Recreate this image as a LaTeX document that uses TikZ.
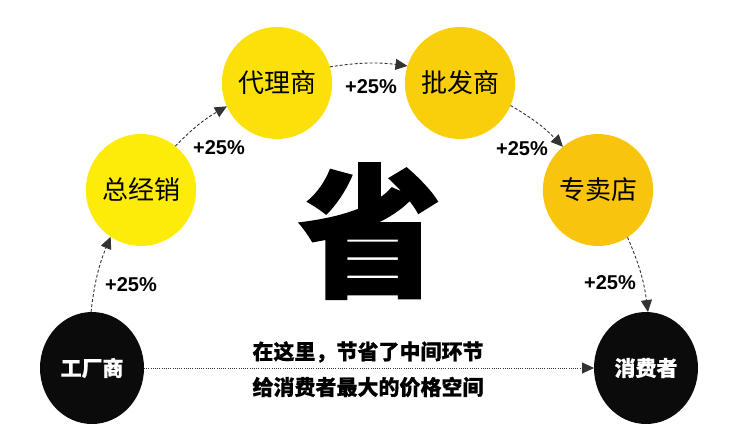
\documentclass[tikz,border=0pt]{standalone}
\usepackage{fontspec}
\setmainfont{Liberation Sans}
\newfontfamily\cjk{Noto Sans CJK SC}
\newfontfamily\cjkbold[FakeBold=0.6]{Noto Sans CJK SC}
\newfontfamily\cjkheavy[FakeBold=1.5]{Noto Sans CJK SC}
\usepackage{xcolor}
\usepackage{tikz}
\usetikzlibrary{shapes.geometric,arrows.meta}

\definecolor{lemon}{HTML}{FDEB0A}
\definecolor{sun}{HTML}{FBE00A}
\definecolor{gold}{HTML}{F9CF0B}
\definecolor{amber}{HTML}{F9C40E}
\definecolor{ink}{HTML}{0B0B0B}

\begin{document}
\begin{tikzpicture}[x=1pt,y=-1pt,
    every node/.style={inner sep=0pt,outer sep=0pt},
    stage/.style={ellipse,minimum width=104pt,minimum height=112pt,font=\cjk\fontsize{26}{26}\selectfont},
    endpt/.style={stage,fill=ink,text=white,font=\cjkbold\bfseries\fontsize{21}{21}\selectfont},
    flow/.style={densely dashed,line width=0.9pt,black!80,-{Triangle[length=12pt,width=11pt]}},
    saving/.style={dash pattern=on 1pt off 1.2pt,line width=0.9pt,black!80,-{Triangle[length=12pt,width=11pt]}},
    pct/.style={font=\bfseries\fontsize{20}{20}\selectfont},
    msg/.style={font=\cjkbold\bfseries\fontsize{21}{21}\selectfont},
]
\useasboundingbox (0,0) rectangle (750,440);
\node[endpt] (gc) at (92,368) {工厂商};
\node[stage,fill=lemon] (zjx) at (141,190) {总经销};
\node[stage,fill=sun] (dls) at (277,83) {代理商};
\node[stage,fill=gold] (pfs) at (460,83) {批发商};
\node[stage,fill=amber] (zmd) at (598,190) {专卖店};
\node[endpt] (xfz) at (646,368) {消费者};
\foreach \a/\b in {gc.91/zjx.237, zjx.52/dls.205, dls.17/pfs.162, pfs.336/zmd.129, zmd.302/xfz.88}{
  \draw[flow] (\a) to[bend left=8] (\b);
}
\node[pct] (p1) at (131,285) {+25\%};
\node[pct] (p2) at (219,148) {+25\%};
\node[pct] (p3) at (371,87)  {+25\%};
\node[pct] (p4) at (522,149) {+25\%};
\node[pct] (p5) at (610,283) {+25\%};
\draw[saving] (gc) -- (xfz);
\node[msg] (m1) at (368,352) {在这里，节省了中间环节};
\node[msg] (m2) at (368,387) {给消费者最大的价格空间};
\node[font=\cjkheavy\bfseries\fontsize{143}{143}\selectfont] (sheng) at (370,231) {省};
\end{tikzpicture}
\end{document}
